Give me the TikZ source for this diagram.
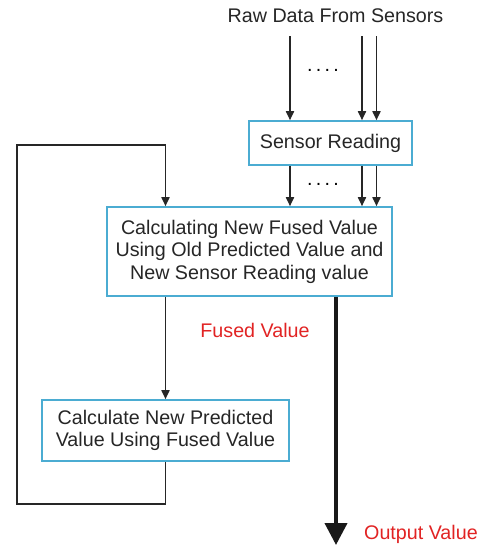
\documentclass[tikz,border=0pt]{standalone}
\usepackage{fontspec}
\setmainfont{Liberation Sans}
\usepackage{xcolor}
\usetikzlibrary{arrows.meta, positioning}

\definecolor{boxblue}{RGB}{75,172,210}
\definecolor{lblred}{RGB}{225,35,35}

\begin{document}
\begin{tikzpicture}[x=1pt, y=-1pt,
  block/.style={rectangle, draw=boxblue, line width=1.6pt, align=center, inner sep=0pt, text=black!85,
                font=\fontsize{19.7}{22.5}\selectfont},
  lbl/.style={font=\fontsize{19.7}{22.5}\selectfont, inner sep=0pt},
  arrow/.style={-{Triangle[length=9pt, width=8pt]}, line width=1.7pt, black!85},
  bigarrow/.style={-{Triangle[length=22pt, width=22pt]}, line width=4pt, black!90}
]
 \useasboundingbox (0,0) rectangle (487,550);

 % Sensor inputs
 \node[lbl, text=black!85] (raw) at (335.5,16) {Raw Data From Sensors};
 \coordinate (in1) at (290,36);
 \coordinate (in2) at (362,36);
 \coordinate (in3) at (376.5,36);
 \node[block, minimum width=163pt, minimum height=44pt] (sensor) at (330.5,143) {Sensor Reading};
 \foreach \c in {in1,in2,in3}
   \draw[arrow] (\c) -- (\c |- sensor.north);
 \node[lbl] (dots1) at (323,70) {.\,.\,.\,.};

 % Fusion step
 \node[block, minimum width=285pt, minimum height=89pt] (fused) at (249.5,251.5)
   {Calculating New Fused Value\\ Using Old Predicted Value and\\ New Sensor Reading value};
 \foreach \c in {in1,in2,in3}
   \draw[arrow] (\c |- sensor.south) -- (\c |- fused.north);
 \node[lbl] (dots2) at (323,184) {.\,.\,.\,.};

 % Prediction step and feedback loop
 \node[block, minimum width=247pt, minimum height=61pt] (pred) at (165.5,430.5)
   {Calculate New Predicted\\ Value Using Fused Value};
 \draw[arrow] (pred |- fused.south) -- (pred.north);
 \node[lbl, text=lblred] (fusedlbl) at (255,330) {Fused Value};
 \coordinate (loopbot) at (17,504);
 \coordinate (looptop) at (17,145);
 \draw[arrow] (pred.south) |- (loopbot) -- (looptop) -| (pred |- fused.north);

 % Output
 \coordinate (out) at (336,545);
 \draw[bigarrow] (out |- fused.south) -- (out);
 \node[lbl, text=lblred, anchor=west] (outlbl) at (364,534) {Output Value};
\end{tikzpicture}
\end{document}
